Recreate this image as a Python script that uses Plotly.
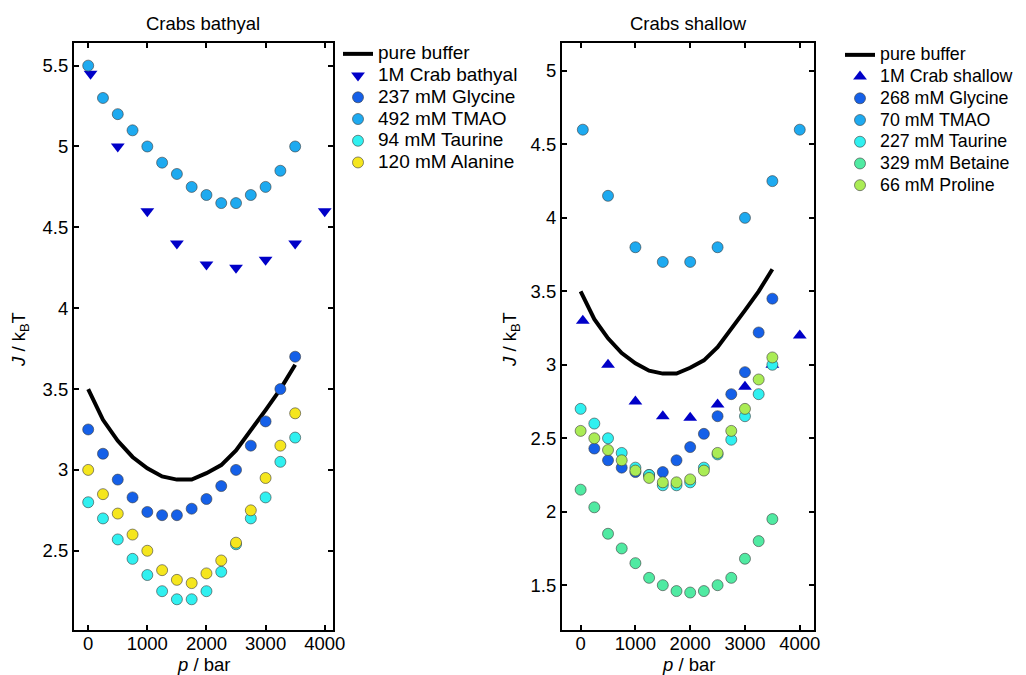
import plotly.graph_objects as go

# ---------------- data ----------------
p_buffer = [0, 250, 500, 750, 1000, 1250, 1500, 1750, 2000, 2250, 2500, 2750, 3000, 3250, 3500]
J_buffer = [3.50, 3.31, 3.18, 3.08, 3.01, 2.96, 2.94, 2.94, 2.98, 3.03, 3.12, 3.24, 3.37, 3.50, 3.65]

p_full = [0, 250, 500, 750, 1000, 1250, 1500, 1750, 2000, 2250, 2500, 2750, 3000, 3250, 3500]

# Crabs bathyal
p_crab_bathyal = [40, 500, 1000, 1500, 2000, 2500, 3000, 3500, 4000]
J_crab_bathyal = [5.45, 5.00, 4.60, 4.40, 4.27, 4.25, 4.30, 4.40, 4.60]
J_gly_bathyal = [3.25, 3.10, 2.94, 2.83, 2.74, 2.72, 2.72, 2.76, 2.82, 2.90, 3.00, 3.15, 3.30, 3.50, 3.70]
J_tmao_bathyal = [5.50, 5.30, 5.20, 5.10, 5.00, 4.90, 4.83, 4.75, 4.70, 4.65, 4.65, 4.70, 4.75, 4.85, 5.00]
J_tau_bathyal = [2.80, 2.70, 2.57, 2.45, 2.35, 2.25, 2.20, 2.20, 2.25, 2.37, 2.54, 2.70, 2.83, 3.05, 3.20]
J_ala_bathyal = [3.00, 2.85, 2.73, 2.60, 2.50, 2.38, 2.32, 2.30, 2.36, 2.44, 2.55, 2.75, 2.95, 3.15, 3.35]

# Crabs shallow
p_crab_shallow = [40, 500, 1000, 1500, 2000, 2500, 3000, 3500, 4000]
J_crab_shallow = [3.30, 3.00, 2.75, 2.65, 2.64, 2.73, 2.85, 3.00, 3.20]
p_gly_shallow = [250, 500, 750, 1000, 1250, 1500, 1750, 2000, 2250, 2500, 2750, 3000, 3250, 3500]
J_gly_shallow = [2.43, 2.35, 2.30, 2.27, 2.25, 2.27, 2.35, 2.44, 2.53, 2.65, 2.80, 2.95, 3.22, 3.45]
p_tmao_shallow = [40, 500, 1000, 1500, 2000, 2500, 3000, 3500, 4000]
J_tmao_shallow = [4.60, 4.15, 3.80, 3.70, 3.70, 3.80, 4.00, 4.25, 4.60]
J_tau_shallow = [2.70, 2.60, 2.50, 2.40, 2.30, 2.25, 2.18, 2.18, 2.20, 2.30, 2.39, 2.49, 2.65, 2.80, 3.00]
J_bet_shallow = [2.15, 2.03, 1.85, 1.75, 1.65, 1.55, 1.50, 1.46, 1.45, 1.46, 1.50, 1.55, 1.68, 1.80, 1.95]
J_pro_shallow = [2.55, 2.50, 2.42, 2.35, 2.28, 2.23, 2.20, 2.20, 2.22, 2.28, 2.40, 2.55, 2.70, 2.90, 3.05]

x_ticks = [0, 1000, 2000, 3000, 4000]
y_ticks_left = [2.5, 3, 3.5, 4, 4.5, 5, 5.5]
y_ticks_right = [1.5, 2, 2.5, 3, 3.5, 4, 4.5, 5]

# ---------------- styles ----------------
C_CRAB = "#0000c8"
C_GLY = "#1560e8"
C_TMAO = "#1eaaf0"
C_TAU = "#30f0f0"
C_ALA = "#f5e61e"
C_BET = "#50eaa2"
C_PRO = "#aaec55"
FONT = "Liberation Sans, Arial, sans-serif"
LEG_TEXT_SIZE = {"legend": 19, "legend2": 17.8}  # visible legend text size
LEG_ROW_SIZE = 14.4  # sets legend row spacing

# page body has an 8px margin; lay out in page pixels and convert
OFF = 8
W, H = 1040, 667


def fx(X):
    return (X - OFF) / W


def fy(Y):
    return 1 - (Y - OFF) / H


def lname(s, legend):
    return f'<span style="font-size:{LEG_TEXT_SIZE[legend]}px">{s}</span>'


fig = go.Figure()


def circles(x, y, name, color, xa, ya, legend):
    fig.add_trace(go.Scatter(
        x=x, y=y, mode="markers", name=lname(name, legend), xaxis=xa, yaxis=ya, legend=legend,
        marker=dict(symbol="circle", size=11, color=color, line=dict(color="#3a3a3a", width=0.6))))


def buffer(xa, ya, legend):
    fig.add_trace(go.Scatter(
        x=p_buffer, y=J_buffer, mode="lines", name=lname("pure buffer", legend), xaxis=xa, yaxis=ya,
        legend=legend, line=dict(color="black", width=4)))


def crab(x, y, name, symbol, xa, ya, legend):
    fig.add_trace(go.Scatter(
        x=x, y=y, mode="markers", name=lname(name, legend), xaxis=xa, yaxis=ya, legend=legend,
        marker=dict(symbol=symbol, size=12, color=C_CRAB, line=dict(width=0))))


# left panel
buffer("x", "y", "legend")
crab(p_crab_bathyal, J_crab_bathyal, "1M Crab bathyal", "triangle-down", "x", "y", "legend")
circles(p_full, J_gly_bathyal, "237 mM Glycine", C_GLY, "x", "y", "legend")
circles(p_full, J_tmao_bathyal, "492 mM TMAO", C_TMAO, "x", "y", "legend")
circles(p_full, J_tau_bathyal, "94 mM Taurine", C_TAU, "x", "y", "legend")
circles(p_full, J_ala_bathyal, "120 mM Alanine", C_ALA, "x", "y", "legend")

# right panel
buffer("x2", "y2", "legend2")
crab(p_crab_shallow, J_crab_shallow, "1M Crab shallow", "triangle-up", "x2", "y2", "legend2")
circles(p_gly_shallow, J_gly_shallow, "268 mM Glycine", C_GLY, "x2", "y2", "legend2")
circles(p_tmao_shallow, J_tmao_shallow, "70 mM TMAO", C_TMAO, "x2", "y2", "legend2")
circles(p_full, J_tau_shallow, "227 mM Taurine", C_TAU, "x2", "y2", "legend2")
circles(p_full, J_bet_shallow, "329 mM Betaine", C_BET, "x2", "y2", "legend2")
circles(p_full, J_pro_shallow, "66 mM Proline", C_PRO, "x2", "y2", "legend2")

axis_common = dict(showline=True, linecolor="black", linewidth=2, mirror="ticks",
                   ticks="inside", ticklen=5, tickwidth=2, tickcolor="black",
                   showgrid=False, zeroline=False,
                   tickfont=dict(family=FONT, size=18.5, color="black"))

legend_common = dict(font=dict(family=FONT, size=LEG_ROW_SIZE, color="black"), bgcolor="rgba(0,0,0,0)",
                     itemwidth=30, tracegroupgap=0, xanchor="left", yanchor="top",
                     itemclick=False)

fig.update_layout(
    width=W, height=H, plot_bgcolor="white", paper_bgcolor="white",
    margin=dict(l=0, r=0, t=0, b=0, autoexpand=False),
    xaxis=dict(domain=[fx(74), fx(333)], range=[-240, 4140], tickvals=x_ticks, anchor="y",
               ticklabelstandoff=-4, **axis_common),
    yaxis=dict(domain=[fy(630), fy(43)], range=[2.01, 5.64], tickvals=y_ticks_left,
               ticktext=[f"{v:g}" for v in y_ticks_left], anchor="x", **axis_common),
    xaxis2=dict(domain=[fx(562), fx(814)], range=[-340, 4260], tickvals=x_ticks, anchor="y2",
                ticklabelstandoff=-4, **axis_common),
    yaxis2=dict(domain=[fy(630), fy(43)], range=[1.195, 5.19], tickvals=y_ticks_right,
                ticktext=[f"{v:g}" for v in y_ticks_right], anchor="x2", **axis_common),
    legend=dict(x=fx(338), y=fy(38), **legend_common),
    legend2=dict(x=fx(840), y=fy(39), **legend_common),
    showlegend=True,
)

ann_font = dict(family=FONT, size=18.5, color="black")
annotations = [
    dict(text="Crabs bathyal", x=fx(203), y=fy(24)),
    dict(text="Crabs shallow", x=fx(688), y=fy(24)),
    dict(text="<i>p</i> / bar", x=fx(203), y=fy(664)),
    dict(text="<i>p</i> / bar", x=fx(688), y=fy(664)),
    dict(text="<i>J</i> / k<sub>B</sub>T", x=fx(20), y=fy(340), textangle=-90),
    dict(text="<i>J</i> / k<sub>B</sub>T", x=fx(511), y=fy(340), textangle=-90),
]
for a in annotations:
    fig.add_annotation(xref="paper", yref="paper", showarrow=False, font=ann_font,
                       xanchor="center", yanchor="middle", **a)

fig.write_html("out.html")
